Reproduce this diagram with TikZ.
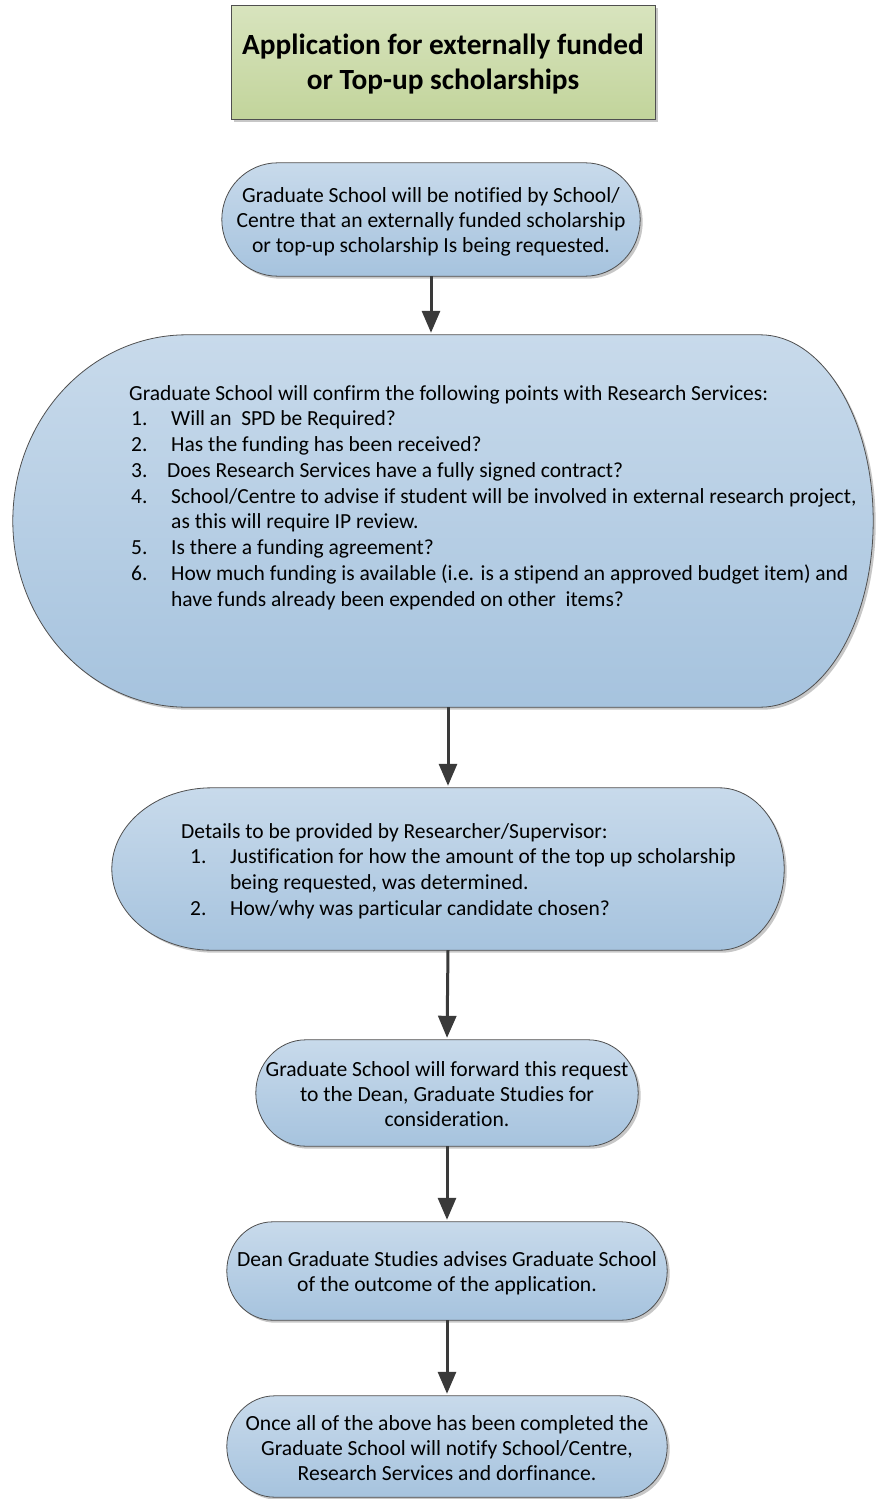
\documentclass[tikz,border=0pt]{standalone}
\usepackage{fontspec}
\setmainfont{Carlito}[Ligatures=NoCommon]
\usetikzlibrary{arrows.meta,backgrounds,shadows,calc}
\definecolor{stadtop}{HTML}{C8DAEB}
\definecolor{stadbot}{HTML}{A6C3DE}
\definecolor{titletop}{HTML}{D8E4BE}
\definecolor{titlebot}{HTML}{C2D49B}
\definecolor{edgec}{HTML}{4F4F4F}
\definecolor{arrowc}{HTML}{3A3A3A}
\tikzset{
  box/.style={rectangle, inner sep=0pt, draw=none},
  stadfill/.style={draw=edgec, line width=0.8pt, top color=stadtop, bottom color=stadbot,
    drop shadow={shadow xshift=2.5pt, shadow yshift=-2.5pt, fill=black, opacity=0.22}},
  titlebox/.style={rectangle, inner sep=0pt, draw=edgec, line width=0.8pt,
    top color=titletop, bottom color=titlebot,
    drop shadow={shadow xshift=3pt, shadow yshift=-3pt, fill=black, opacity=0.22}},
  titletxt/.style={inner sep=0pt, font=\bfseries\fontsize{29.3}{35}\selectfont, align=center},
  txt/.style={inner sep=0pt, font=\fontsize{21.6}{25}\selectfont, align=center},
  listtxt/.style={font=\fontsize{21.5}{25.75}\selectfont, align=left, inner sep=0pt},
  flow/.style={draw=arrowc, line width=3pt, -{Triangle[width=18pt,length=22pt]}, shorten >=2pt},
}
\newcommand\stadium[3]{%
  \path[stadfill] let \p1=(#1.north west), \p2=(#1.south east), \n1={(\y1-\y2)/2} in
    (\x1+#2pt,\y1) -- (\x2-#3pt,\y1)
    arc[start angle=90,end angle=-90,x radius=#3pt,y radius=\n1]
    -- (\x1+#2pt,\y2)
    arc[start angle=270,end angle=90,x radius=#2pt,y radius=\n1] -- cycle;}
\begin{document}
\begin{tikzpicture}[x=1pt,y=-1pt]
\useasboundingbox (0,0) rectangle (876,1499);

\node[titlebox, minimum width=424pt, minimum height=114pt] (title) at (443,62) {};
\node[titletxt] (titletext) at ($(title.center)+(0,2)$)
  {Application for externally funded\\or Top-up scholarships};

\node[box, minimum width=418pt, minimum height=113pt] (A) at (431,219.5) {};
\node[txt] (Atext) at ($(A.center)+(0,2.5)$)
  {Graduate School will be notified by School/\\Centre that an externally funded scholarship\\or top-up scholarship Is being requested.};

\node[box, minimum width=860pt, minimum height=372pt] (big) at (443,521) {};
\node[listtxt, anchor=north west] (bigtext) at (129,385)
  {Graduate School will confirm the following points with Research Services:\\
   \hspace*{2pt}\makebox[40pt][l]{1.}Will an\ \ SPD be Required?\\
   \hspace*{2pt}\makebox[40pt][l]{2.}Has the funding has been received?\\
   \hspace*{2pt}\makebox[36pt][l]{3.}Does Research Services have a fully signed contract?\\
   \hspace*{2pt}\makebox[40pt][l]{4.}School/Centre to advise if student will be involved in external research project,\\
   \hspace*{42pt}as this will require IP review.\\
   \hspace*{2pt}\makebox[40pt][l]{5.}Is there a funding agreement?\\
   \hspace*{2pt}\makebox[40pt][l]{6.}How much funding is available (i.e. is a stipend an approved budget item) and\\
   \hspace*{42pt}have funds already been expended on other\ \ items?};

\node[box, minimum width=672pt, minimum height=162pt] (B) at (448,869) {};
\node[listtxt, anchor=north west] (Btext) at (181,823)
  {Details to be provided by Researcher/Supervisor:\\
   \hspace*{9pt}\makebox[40pt][l]{1.}Justification for how the amount of the top up scholarship\\
   \hspace*{49pt}being requested, was determined.\\
   \hspace*{9pt}\makebox[40pt][l]{2.}How/why was particular candidate chosen?};

\node[box, minimum width=382pt, minimum height=106pt] (C) at (447,1093) {};
\node[txt] (Ctext) at ($(C.center)+(0,1.5)$)
  {Graduate School will forward this request\\to the Dean, Graduate Studies for\\consideration.};

\node[box, minimum width=440pt, minimum height=98pt] (D) at (447,1271) {};
\node[txt] (Dtext) at ($(D.center)+(0,2)$)
  {Dean Graduate Studies advises Graduate School\\of the outcome of the application.};

\node[box, minimum width=440pt, minimum height=101pt] (E) at (447,1446.5) {};
\node[txt] (Etext) at ($(E.center)+(0,2)$)
  {Once all of the above has been completed the\\Graduate School will notify School/Centre,\\Research Services and dorfinance.};

\begin{scope}[on background layer]
  \stadium{A}{56}{55}
  \stadium{big}{174}{113}
  \stadium{B}{100}{65}
  \stadium{C}{50}{50}
  \stadium{D}{46}{46}
  \stadium{E}{48}{48}
\end{scope}

\draw[flow] (A.south) -- (A.south |- big.north);
\draw[flow] (B.north |- big.south) -- (B.north);
\draw[flow] (B.south) -- (C.north);
\draw[flow] (C.south) -- (D.north);
\draw[flow] (D.south) -- (E.north);
\end{tikzpicture}
\end{document}
